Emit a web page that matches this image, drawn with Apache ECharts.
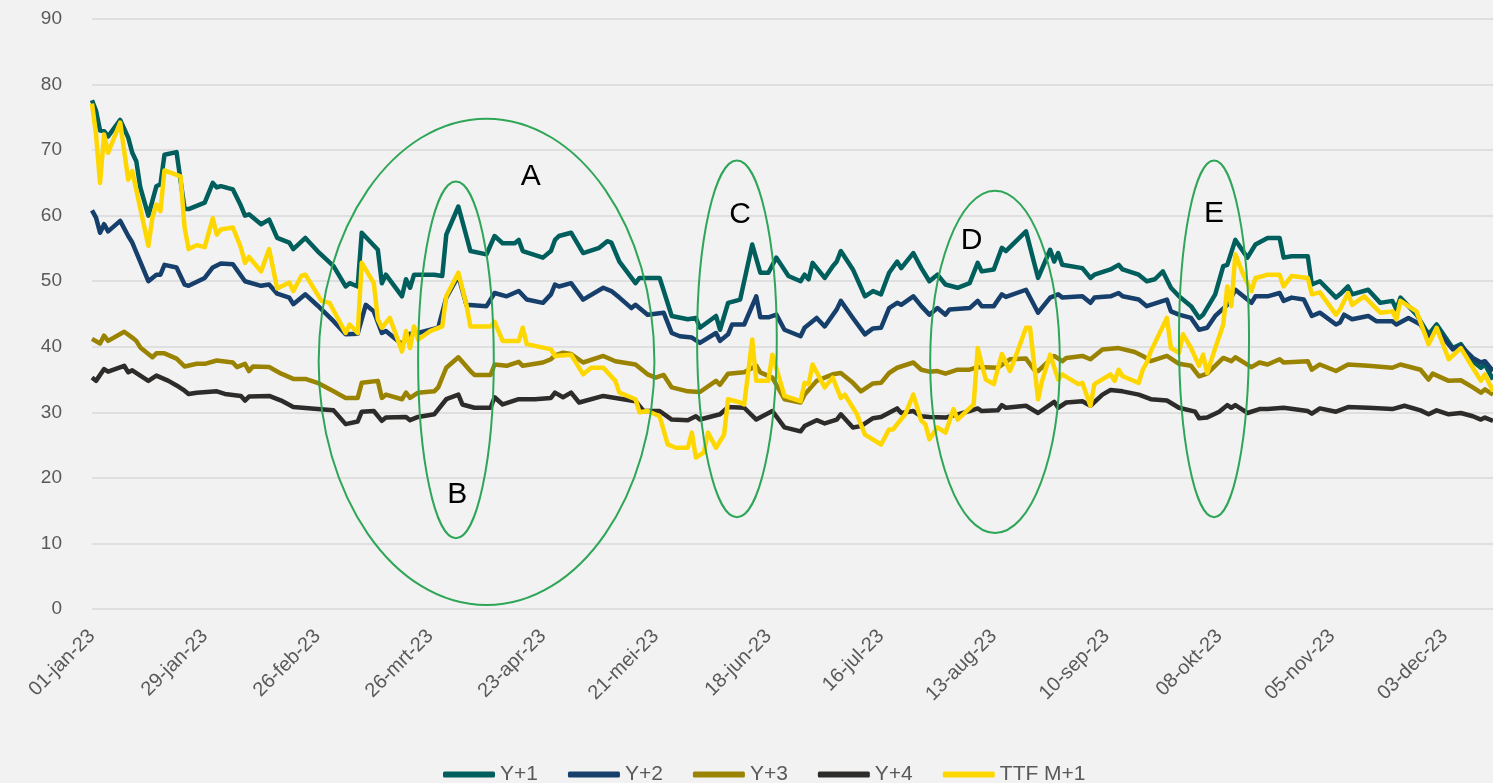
<!DOCTYPE html>
<html>
<head>
<meta charset="utf-8">
<script src="https://cdn.jsdelivr.net/npm/echarts@6/dist/echarts.min.js"></script>
<style>
  html, body { margin: 0; padding: 0; background: #f2f2f2; }
  #chart { width: 1493px; height: 783px; }
</style>
</head>
<body>
<div id="chart"></div>
<script>
// x = days since 01-jan-23, ticks every 28 days
const tickLabels = ["01-jan-23", "29-jan-23", "26-feb-23", "26-mrt-23", "23-apr-23", "21-mei-23", "18-jun-23",
  "16-jul-23", "13-aug-23", "10-sep-23", "08-okt-23", "05-nov-23", "03-dec-23"];
const seriesNames = ["Y+1", "Y+2", "Y+3", "Y+4", "TTF M+1"];
const seriesColors = ["#005e5c", "#163f6b", "#9a8300", "#2d2c2a", "#ffd700"];

const y1 = [[0,77.6],[1,76],[2,73],[3,72.9],[4,72.1],[7,74.6],[9,71.9],[10,69.6],[11,68.3],[12,64.3],[14,60],[16,64.5],[17,64.8],[18,69.3],[21,69.7],[23,61],[24,61],[28,62],[30,65],[31,64.3],[32,64.5],[35,64],[37,61.5],[38,60],[39,60.2],[42,58.7],[44,59.4],[46,56.6],[49,55.9],[50,54.9],[53,56.6],[56,54.6],[60,52.3],[63,49.2],[64,49.7],[66,49.2],[67,57.4],[71,54.8],[72,49.7],[73,51],[77,47.7],[78,50.3],[79,49],[80,51],[85,51],[87,50.8],[88,57.1],[91,61.4],[94,54.6],[98,54.1],[100,56.9],[102,55.8],[105,55.8],[106,56.3],[107,54.6],[112,53.6],[114,54.6],[115,56.3],[116,56.9],[119,57.4],[122,54.3],[126,55.1],[128,56.1],[129,55.9],[131,53],[135,49.7],[136,50.5],[141,50.5],[144,44.7],[148,44.2],[150,44.4],[151,42.9],[155,44.7],[156,42.6],[158,46.7],[161,47.2],[164,55.6],[166,51.3],[168,51.3],[170,53.6],[173,50.8],[176,50],[177,51],[178,50.3],[179,52.8],[182,50.5],[184,52.3],[185,53],[186,54.6],[189,51.8],[192,47.7],[194,48.5],[196,48],[198,51.3],[200,53],[201,52],[204,54.3],[206,52],[208,50],[210,51],[212,49.5],[215,49],[218,49.7],[220,52.8],[221,51.5],[224,51.8],[226,55.1],[227,54.6],[232,57.6],[235,50.5],[238,54.8],[239,53],[240,54.3],[241,52.5],[246,52],[248,50.5],[249,51],[253,51.8],[255,52.5],[256,51.8],[260,51],[262,50],[264,50.3],[266,51.5],[268,49],[270,47.7],[273,46.2],[275,44.4],[276,44.9],[279,48],[281,52.3],[282,52.5],[284,56.3],[287,53.6],[289,55.6],[292,56.6],[295,56.6],[296,53.6],[298,53.8],[302,53.8],[303,49.5],[305,50],[309,47.5],[310,48],[312,49.2],[313,48],[317,48.7],[320,46.7],[323,47],[324,45.7],[325,47.5],[329,44.9],[332,41.9],[334,43.4],[338,39.8],[340,40.4],[343,37.8],[345,36.8],[346,37.3],[348,35]];

const y2 = [[0,60.8],[1,59.7],[2,57.4],[3,58.7],[4,57.6],[7,59.2],[9,56.9],[10,55.9],[14,50],[16,51],[17,51],[18,52.5],[21,52.1],[23,49.5],[24,49.3],[28,50.5],[30,52.1],[32,52.7],[35,52.6],[38,50],[42,49.3],[44,49.5],[46,48.1],[49,47.5],[50,46.5],[53,48],[56,46.3],[60,43.9],[63,41.9],[66,42],[68,46.4],[70,45.4],[72,42.1],[73,42.4],[77,40.4],[79,42],[81,42.1],[86,42.9],[88,47.5],[91,50.8],[93,46.4],[98,46.2],[100,48.2],[103,47.7],[106,48.5],[108,47.2],[112,46.7],[114,48],[115,49.5],[116,49.2],[119,49.7],[122,47.2],[127,49],[129,48.5],[131,47.5],[134,45.9],[135,46.4],[138,44.9],[142,45.2],[144,42.1],[146,41.6],[149,41.4],[151,40.6],[155,42.1],[156,40.9],[158,41.9],[159,43.4],[162,43.4],[165,47.7],[166,44.5],[168,44.5],[170,44.9],[172,42.6],[176,41.6],[177,42.9],[180,44.4],[182,43.1],[185,45.7],[186,47],[189,44.4],[192,41.9],[194,42.8],[196,42.9],[198,45.9],[200,46.7],[201,46.4],[204,47.7],[206,46.2],[208,44.9],[210,45.9],[212,44.9],[213,45.7],[218,45.9],[220,47],[221,46.2],[224,46.2],[226,48],[227,47.6],[232,48.7],[235,45.2],[238,47.5],[240,48],[241,47.5],[246,47.7],[248,46.7],[249,47.5],[253,47.7],[255,48.2],[256,47.7],[260,47.2],[262,46.2],[267,47.2],[268,45.4],[270,44.9],[273,44.4],[275,42.6],[277,42.9],[279,44.7],[282,46.4],[284,48.7],[288,46.7],[289,47.7],[292,47.7],[295,48.2],[296,47],[298,47.5],[301,47.2],[303,44.7],[305,45.2],[309,43.4],[310,43.7],[311,44.9],[313,44.2],[317,44.7],[319,43.9],[323,43.9],[324,43.4],[327,44.4],[330,43.4],[332,41.4],[334,42.6],[338,39.6],[340,40.1],[343,38.3],[345,37.6],[346,37.8],[348,36.3]];

const y3 = [[0,41.2],[2,40.5],[3,41.7],[4,40.9],[8,42.3],[10,41.4],[11,40.9],[12,39.9],[15,38.4],[16,39],[18,39],[21,38.2],[23,37],[26,37.4],[28,37.4],[31,37.9],[35,37.6],[36,36.9],[38,37.4],[39,36.3],[40,37],[44,36.9],[47,35.9],[50,35.1],[53,35.1],[56,34.5],[60,33.2],[63,32.2],[66,32.2],[67,34.5],[71,34.8],[72,32.2],[73,32.7],[77,32],[78,33],[79,32.2],[81,33],[85,33.2],[86,33.8],[88,36.8],[91,38.4],[94,36.3],[95,35.7],[99,35.7],[100,37.3],[103,37.1],[106,37.7],[107,37.1],[112,37.6],[114,38.1],[115,38.7],[117,39.1],[119,38.9],[122,37.6],[127,38.6],[130,37.8],[135,37.3],[138,35.8],[140,35.3],[142,35.7],[144,33.8],[148,33.2],[151,33.1],[155,34.8],[156,34.2],[158,35.9],[162,36.1],[165,37.1],[166,36.1],[169,35.3],[172,32],[176,31.5],[177,32.7],[180,34.8],[184,35.8],[186,36],[189,34.5],[191,33.2],[194,34.4],[196,34.5],[198,36],[200,36.8],[204,37.6],[206,36.5],[208,36.2],[210,36.3],[212,35.9],[215,36.5],[218,36.5],[220,36.9],[225,36.8],[228,38.1],[232,38.2],[234,36.5],[235,36.3],[239,38.6],[241,37.8],[242,38.3],[246,38.6],[248,38.1],[251,39.6],[255,39.8],[259,39.2],[261,38.6],[263,37.8],[267,38.6],[270,37.4],[273,37.1],[275,35.5],[277,35.9],[281,38.3],[283,37.8],[284,38.4],[288,36.9],[290,37.6],[292,37.3],[295,38.1],[296,37.6],[302,37.8],[303,36.5],[305,37.3],[309,36.3],[312,37.3],[317,37.1],[323,36.8],[325,37.3],[330,36.5],[332,35],[333,35.9],[337,34.8],[340,34.9],[343,33.8],[345,33],[346,33.5],[348,32.7]];

const y4 = [[0,35.3],[1,34.8],[3,36.6],[4,36.2],[8,37.1],[9,36.1],[10,36.4],[14,34.8],[16,35.6],[19,34.8],[21,34.1],[23,33.3],[24,32.8],[26,33],[31,33.2],[33,32.8],[37,32.5],[38,31.8],[39,32.4],[44,32.5],[47,31.8],[50,30.8],[56,30.5],[60,30.3],[63,28.2],[66,28.6],[67,30.1],[70,30.2],[72,28.7],[73,29.2],[78,29.3],[79,28.8],[81,29.3],[85,29.7],[88,32],[91,32.7],[92,31.2],[95,30.7],[99,30.7],[100,32.3],[102,31.2],[106,32],[110,32],[114,32.2],[115,33],[117,32.3],[119,33],[121,31.5],[127,32.5],[135,31.7],[137,30.2],[141,30.2],[144,28.9],[148,28.8],[150,29.4],[151,28.9],[156,29.7],[158,30.8],[162,30.7],[165,28.9],[169,30.2],[172,27.7],[176,27.1],[177,27.9],[180,28.8],[182,28.3],[185,28.9],[186,29.7],[189,27.7],[191,27.9],[194,29.1],[196,29.3],[200,30.6],[201,29.9],[204,30.2],[206,29.4],[208,29.3],[212,29.2],[215,29.7],[218,30.2],[220,30.6],[221,30.2],[225,30.3],[226,31.1],[227,30.7],[232,31],[235,29.9],[239,31.6],[240,30.7],[242,31.5],[246,31.7],[248,31],[251,32.7],[253,33.4],[256,33.2],[260,32.7],[263,32],[267,31.8],[270,30.7],[274,30.1],[275,29.1],[277,29.2],[280,30.1],[282,31.1],[283,30.7],[284,31.1],[287,29.9],[290,30.5],[292,30.5],[296,30.7],[302,30.2],[303,29.8],[305,30.6],[309,30.1],[312,30.8],[317,30.7],[323,30.5],[326,31],[330,30.3],[332,29.7],[334,30.3],[337,29.7],[340,29.9],[343,29.4],[345,28.9],[346,29.2],[348,28.7]];

const ttf = [[0,77.1],[1,72.4],[2,65],[3,72.4],[4,69.6],[7,74.2],[9,65.5],[10,66.8],[14,55.4],[15,59.7],[16,61.7],[17,60.7],[18,66.9],[22,66],[23,58.2],[24,54.9],[26,55.5],[28,55.2],[30,59.6],[31,57.1],[32,57.9],[35,58.2],[37,55.1],[38,52.8],[39,53.7],[42,51.5],[44,54.9],[46,48.9],[49,49.8],[50,48.5],[52,50.8],[53,51],[57,47],[59,46.7],[63,42.1],[64,43.4],[66,42.1],[67,52.8],[70,49.7],[71,44.2],[72,42.9],[74,44.4],[77,39.3],[78,42.4],[79,39.8],[80,43.1],[81,41.1],[84,42.4],[87,43.1],[88,47.7],[91,51.3],[93,46.4],[94,43.1],[99,43.1],[100,43.8],[102,40.9],[106,40.9],[107,42.9],[108,40.4],[114,39.6],[115,38.6],[119,38.8],[122,35.8],[124,36.8],[127,36.8],[130,34.8],[131,33],[135,32],[136,30],[138,30.2],[141,29.4],[143,25.1],[145,24.6],[148,24.6],[149,26.9],[150,23.1],[152,23.9],[153,26.9],[155,24.6],[157,26.6],[158,32],[161,31.5],[162,31.2],[164,41.1],[165,34.8],[168,34.8],[169,38.8],[172,32.5],[176,31.7],[177,34.5],[178,34.3],[179,37.3],[182,33.8],[184,35.3],[186,32.2],[187,32.7],[190,29.7],[192,26.6],[196,25.1],[198,27.4],[199,27.4],[200,28.2],[202,29.7],[204,32.7],[206,28.7],[207,28.2],[208,25.9],[210,27.7],[212,26.9],[214,30.5],[215,28.9],[219,31.2],[220,39.8],[222,35],[224,34.3],[226,38.9],[228,36.3],[229,37.8],[232,42.9],[233,42.9],[235,32],[236,34.8],[238,38.8],[240,35],[241,35.8],[245,34.3],[246,34.5],[248,31],[249,34.3],[253,35.8],[254,34.8],[255,36.5],[256,35.5],[260,34.5],[261,36.5],[262,37.6],[263,39.3],[267,44.4],[268,39.8],[270,39.1],[271,41.9],[273,39.8],[275,37.1],[276,38.8],[277,36],[279,39.8],[281,43.4],[282,49.2],[283,46.2],[284,54.1],[286,51],[288,48.5],[289,50.5],[291,50.8],[292,51],[295,51],[296,49.2],[298,50.8],[302,50.5],[303,48],[305,48.3],[309,44.9],[310,45.7],[312,48.2],[313,46.4],[316,47.7],[320,45.2],[323,45.4],[324,44.2],[325,47],[329,45.4],[332,40.4],[334,42.9],[337,38.1],[340,39.8],[343,36.8],[345,34.8],[346,35.8],[348,33.2]];

// annotation ellipses in data units: [label, centerDay, centerValue, radiusDays, radiusValue, labelDay, labelValue]
const ellipses = [
  ["A", 98, 37.7, 41.7, 37.1, 109, 66],
  ["B", 90.4, 38, 9.4, 27.2, 90.7, 17.5],
  ["C", 160.2, 41.2, 9.9, 27.2, 161, 60.1],
  ["D", 224.3, 37.7, 16.1, 26.1, 218.5, 56.1],
  ["E", 278.7, 41.2, 8.7, 27.2, 278.7, 60.3],
];

const allData = [y1, y2, y3, y4, ttf];
const font = "'Liberation Sans', Arial, sans-serif";

const chart = echarts.init(document.getElementById("chart"));
chart.setOption({
  backgroundColor: "#f2f2f2",
  animation: false,
  grid: { left: 92, right: 0, top: 19, bottom: 174 },
  legend: {
    left: 438,
    top: 759,
    itemWidth: 52,
    itemHeight: 6,
    itemGap: 30,
    icon: "roundRect",
    textStyle: { color: "#595959", fontSize: 21, fontFamily: font },
    data: seriesNames,
  },
  xAxis: {
    type: "value",
    min: 0,
    max: 348,
    interval: 28,
    axisLine: { show: false },
    axisTick: { show: false },
    splitLine: { show: false },
    axisLabel: {
      rotate: 45,
      margin: 24,
      color: "#595959",
      fontSize: 20,
      fontFamily: font,
      showMaxLabel: false,
      formatter: (v) => (v % 28 === 0 ? tickLabels[v / 28] || "" : ""),
    },
  },
  yAxis: {
    type: "value",
    min: 0,
    max: 90,
    interval: 10,
    axisLine: { show: false },
    axisTick: { show: false },
    // horizontale rasterlijnen
    splitLine: { lineStyle: { color: "#d9d9d9", width: 1.5 } },
    axisLabel: { color: "#595959", fontSize: 19, fontFamily: font, margin: 30 },
  },
  series: seriesNames.map((name, i) => ({
    name: name,
    type: "line",
    data: allData[i],
    showSymbol: false,
    color: seriesColors[i],
    lineStyle: { width: 4.5, join: "round" },
  })),
});

// draw the ellipses + letters from data coordinates
function toPx(x, y) {
  return chart.convertToPixel({ xAxisIndex: 0, yAxisIndex: 0 }, [x, y]);
}
const graphics = [];
ellipses.forEach((e) => {
  const c = toPx(e[1], e[2]);
  const edge = toPx(e[1] + e[3], e[2] + e[4]);
  graphics.push({
    type: "ellipse",
    z: 100,
    shape: { cx: c[0], cy: c[1], rx: edge[0] - c[0], ry: c[1] - edge[1] },
    style: { fill: null, stroke: "#2fa657", lineWidth: 2 },
  });
  const t = toPx(e[5], e[6]);
  graphics.push({
    type: "text",
    z: 101,
    x: t[0],
    y: t[1],
    style: {
      text: e[0],
      fill: "#000",
      font: "30px " + font,
      align: "center",
      verticalAlign: "middle",
    },
  });
});
chart.setOption({ graphic: graphics });
</script>
</body>
</html>
